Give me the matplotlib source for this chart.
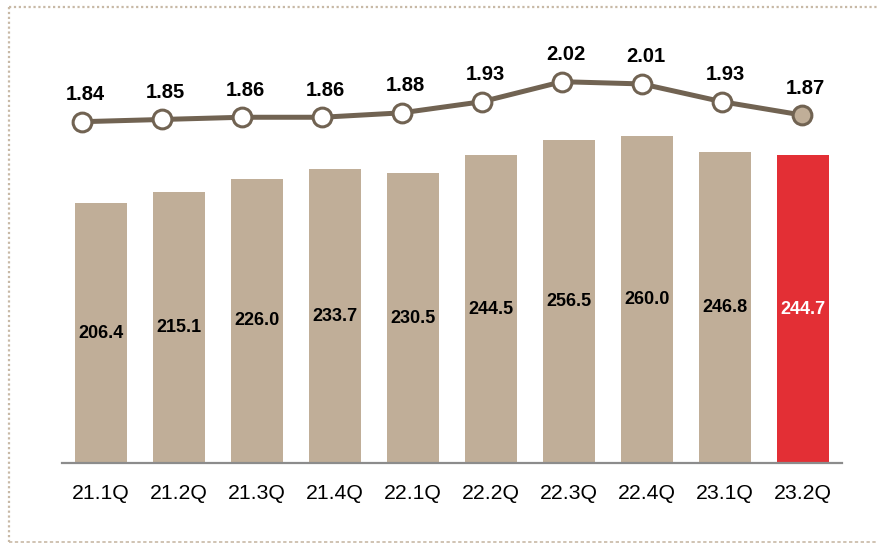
import matplotlib
matplotlib.use("Agg")
import matplotlib.pyplot as plt
from matplotlib.lines import Line2D

plt.rcParams['font.family'] = ['Liberation Sans', 'DejaVu Sans']

quarters = ['21.1Q', '21.2Q', '21.3Q', '21.4Q', '22.1Q',
            '22.2Q', '22.3Q', '22.4Q', '23.1Q', '23.2Q']
bar_values = [206.4, 215.1, 226.0, 233.7, 230.5, 244.5, 256.5, 260.0, 246.8, 244.7]
line_values = [1.84, 1.85, 1.86, 1.86, 1.88, 1.93, 2.02, 2.01, 1.93, 1.87]

TAN = '#C0AE98'
RED = '#E32F35'
LINE = '#716352'


def main():
    fig = plt.figure(figsize=(8.78, 5.44), dpi=100)
    rect = [62 / 878, 1 - 463.3 / 544, 780 / 878, 443.3 / 544]
    ax = fig.add_axes(rect)

    x = list(range(len(quarters)))
    colors = [TAN] * (len(x) - 1) + [RED]
    bars = ax.bar(x, bar_values, width=0.667, color=colors, zorder=2)

    for i, (b, v) in enumerate(zip(bars, bar_values)):
        ax.text(b.get_x() + b.get_width() / 2, v / 2, f'{v:.1f}',
                ha='center', va='center', fontsize=13, fontweight='bold',
                color='white' if i == len(x) - 1 else 'black')

    ax.set_xlim(-0.5, 9.5)
    ax.set_ylim(0, 351.8)
    ax.set_xticks(x)
    ax.set_xticklabels(quarters, fontsize=15.3)
    ax.tick_params(axis='x', length=0, pad=15)
    ax.set_yticks([])
    for s in ['top', 'right', 'left']:
        ax.spines[s].set_visible(False)
    ax.spines['bottom'].set_color('#8C8C8C')
    ax.spines['bottom'].set_linewidth(1.6)

    # line sits on its own, slightly wider x scale
    ax2 = fig.add_axes(rect)
    ax2.patch.set_visible(False)
    ax2.set_xlim(-0.25, 9.5)
    ax2.set_ylim(0.3027, 2.2977)
    ax2.axis('off')
    ax2.plot(x, line_values, color=LINE, lw=3.6, zorder=3)
    face = ['white'] * (len(x) - 1) + [TAN]
    for xi, yi, fc in zip(x, line_values, face):
        ax2.plot(xi, yi, 'o', ms=13.5, mfc=fc, mec=LINE, mew=2.2, zorder=4)
        ax2.annotate(f'{yi:.2f}', (xi, yi), xytext=(2.5, 15.5), textcoords='offset points',
                     ha='center', va='baseline', fontsize=14.5, fontweight='bold')

    # dotted frame
    dot = '#C8B9A6'
    fig.add_artist(Line2D([9 / 878, 1], [1 - 7 / 544, 1 - 7 / 544], color=dot,
                          lw=1.6, ls=(0, (1, 1.2)), transform=fig.transFigure))
    fig.add_artist(Line2D([9 / 878, 9 / 878], [1 - 7 / 544, 1 - 542 / 544], color=dot,
                          lw=1.6, ls=(0, (1, 1.2)), transform=fig.transFigure))
    fig.add_artist(Line2D([9 / 878, 1], [1 - 542 / 544, 1 - 542 / 544], color=dot,
                          lw=1.2, ls=(0, (2, 1.5)), transform=fig.transFigure))

    fig.savefig('out.png', dpi=100)


if __name__ == '__main__':
    main()
